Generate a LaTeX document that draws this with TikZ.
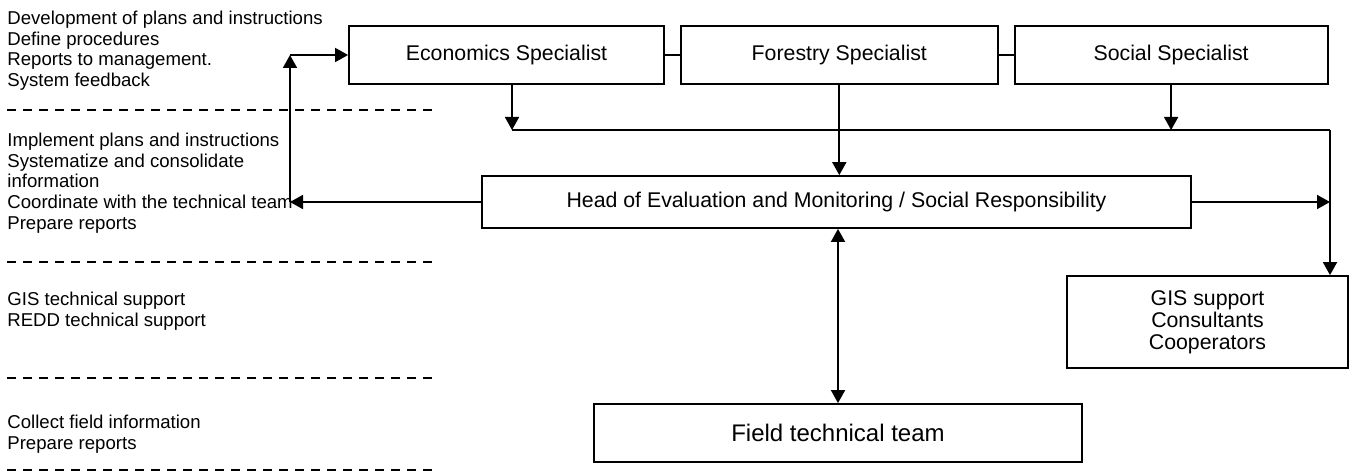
\documentclass[tikz,border=0pt]{standalone}
\usepackage{fontspec}
\setmainfont{Liberation Sans}
\usetikzlibrary{arrows.meta}
\usetikzlibrary{positioning}
\tikzset{>={Triangle[length=6.5pt,width=7pt]}}
\tikzset{
  box/.style={draw,line width=0.9pt,inner sep=2pt,align=center,
    font=\fontsize{10.65}{11}\selectfont},
  notes/.style={anchor=north west,inner sep=0pt,align=left,
    font=\fontsize{9.3}{10.4}\selectfont},
  sepline/.style={line width=0.6pt,dash pattern=on 4.5pt off 3.5pt},
  link/.style={line width=0.9pt}
}

\begin{document}
\begin{tikzpicture}[x=0.5pt,y=-0.5pt]
      \useasboundingbox (0,0) rectangle (1354,476);

      \node [box,minimum width=157.5pt,minimum height=29pt] (econ)
      at (506.5,55) {Economics Specialist};

      \node [box,minimum width=158.5pt,minimum height=29pt,
      right=7.5pt of econ] (forest) {Forestry Specialist};

      \node [box,minimum width=156.5pt,minimum height=29pt,
      right=7.5pt of forest] (social) {Social Specialist};

      \node [box,minimum width=354.5pt,minimum height=26pt] (head)
      at (836.5,202) {Head of Evaluation and Monitoring / Social Responsibility};

      \node [box,minimum width=140.5pt,minimum height=46pt] (gis)
      at (1207.5,322) {GIS support\\Consultants\\Cooperators};

      \node [box,minimum width=244pt,minimum height=29pt,
      font=\fontsize{12}{13}\selectfont] (field)
      at (838,433) {Field technical team};

      \node [notes] (n1) at (7,10.5) {Development of plans and instructions\\
        Define procedures\\Reports to management.\\System feedback};

      \node [notes] (n2) at (7,132.5) {Implement plans and instructions\\
        Systematize and consolidate\\information\\
        Coordinate with the technical team\\Prepare reports};

      \node [notes] (n3) at (7,291.5) {GIS technical support\\
        REDD technical support};

      \node [notes] (n4) at (7,414.5) {Collect field information\\
        Prepare reports};

      \draw [sepline] (7,110) -- (433,110);
      \draw [sepline] (7,262) -- (433,262);
      \draw [sepline] (7,378) -- (433,378);
      \draw [sepline] (7,470) -- (433,470);

      \coordinate (busw) at (512,130);
      \coordinate (buse) at (1330,130);
      \coordinate (back) at (290,55);

      \draw [link] (econ) -- (forest);
      \draw [link] (forest) -- (social);

      \draw [link,->] (econ.south -| busw) -- (busw);
      \draw [link,->] (social.south) -- (social.south |- buse);
      \draw [link] (busw) -- (buse);
      \draw [link,->] (buse) -- (gis.north -| buse);
      \draw [link,->] (forest.south) -- (forest.south |- head.north);
      \draw [link,->] (head.east) -- (head.east -| buse);

      \draw [link,->] (head.west) -- (head.west -| back);
      \draw [link,->] (head.west -| back) -- (back);
      \draw [link,->] (back) -- (econ.west |- back);

      \draw [link,<->] (head.south -| field.north) -- (field.north);
  \end{tikzpicture}
\end{document}
